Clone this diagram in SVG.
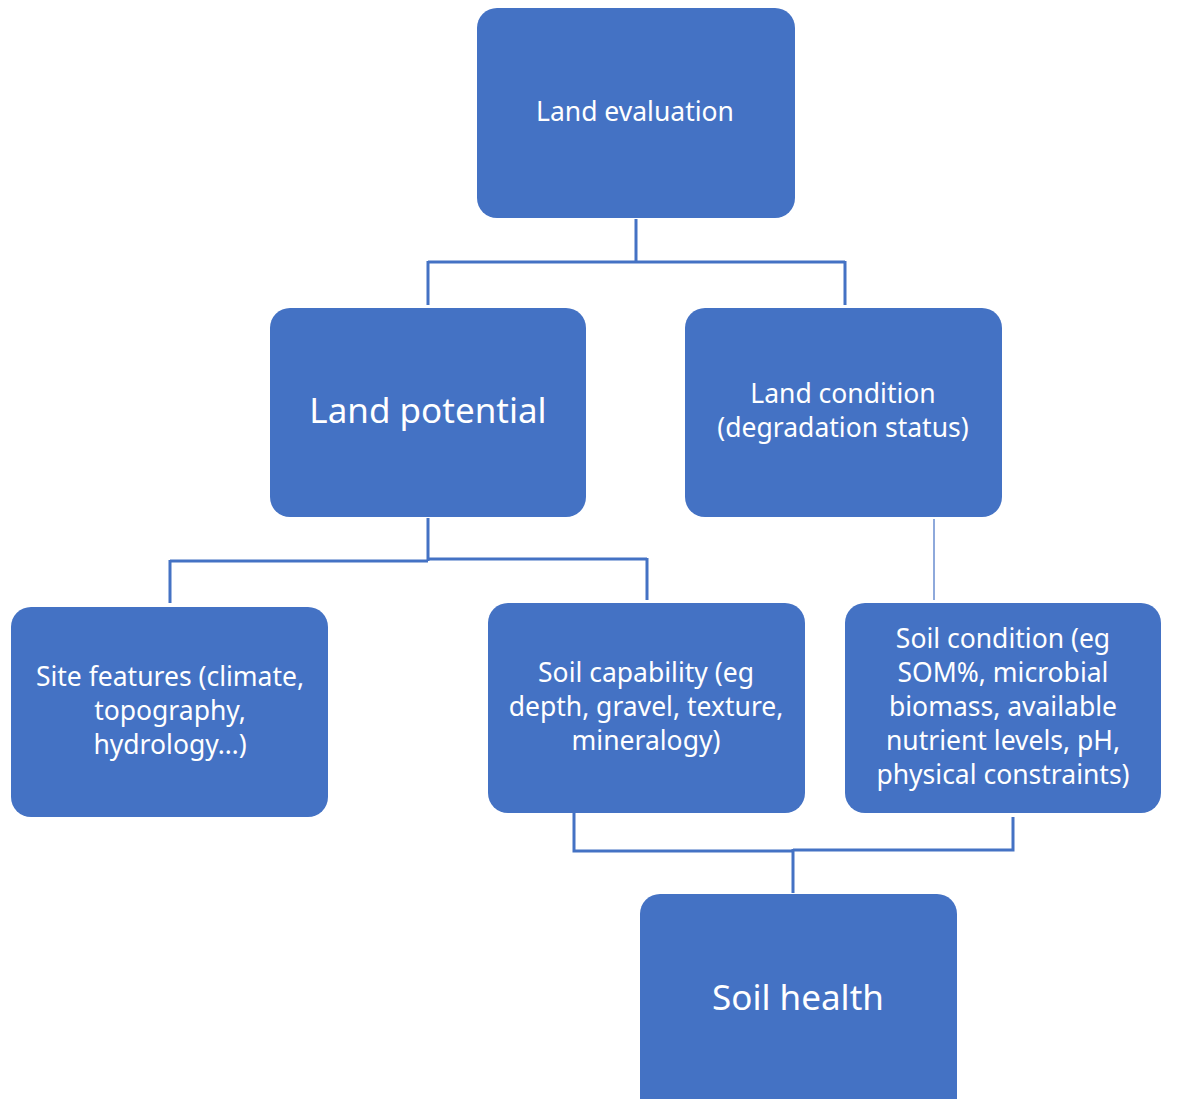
<svg xmlns="http://www.w3.org/2000/svg" width="1191" height="1099" viewBox="0 0 1191 1099">
<style>
.box{fill:#4472C4;}
.t{fill:#fff;font-family:"Noto Sans","Open Sans",sans-serif;font-size:26.5px;text-anchor:middle;}
.big{font-size:35px;}
.c{fill:none;stroke:#4472C4;stroke-width:3;}
.thin{fill:none;stroke:#8EA9DB;stroke-width:2;}
</style>
<rect width="1191" height="1099" fill="#fff"/>
<g id="connectors">
<path class="c" d="M636 219 V262 M428 262 H845 M428 261 V305 M845 261 V305"/>
<path class="c" d="M428 518 V561 M170 561 H428 M428 559 H647 M170 560 V603 M647 558 V600"/>
<path class="thin" d="M934 519 V600"/>
<path class="c" d="M574 813 V851 H793 M793 850 H1013 V817 M793 849 V893"/>
</g>
<g id="land-evaluation">
<rect class="box" x="477" y="8" width="318" height="210" rx="20"/>
<text class="t" x="635" y="121">Land evaluation</text>
</g>
<g id="land-potential">
<rect class="box" x="270" y="308" width="316" height="209" rx="20"/>
<text class="t big" x="428" y="423">Land potential</text>
</g>
<g id="land-condition">
<rect class="box" x="685" y="308" width="317" height="209" rx="20"/>
<text class="t" x="843" y="403">Land condition</text>
<text class="t" x="843" y="437">(degradation status)</text>
</g>
<g id="site-features">
<rect class="box" x="11" y="607" width="317" height="210" rx="20"/>
<text class="t" x="170" y="686">Site features (climate,</text>
<text class="t" x="170" y="720">topography,</text>
<text class="t" x="170" y="754">hydrology…)</text>
</g>
<g id="soil-capability">
<rect class="box" x="488" y="603" width="317" height="210" rx="20"/>
<text class="t" x="646" y="682">Soil capability (eg</text>
<text class="t" x="646" y="716">depth, gravel, texture,</text>
<text class="t" x="646" y="750">mineralogy)</text>
</g>
<g id="soil-condition">
<rect class="box" x="845" y="603" width="316" height="210" rx="20"/>
<text class="t" x="1003" y="648">Soil condition (eg</text>
<text class="t" x="1003" y="682">SOM%, microbial</text>
<text class="t" x="1003" y="716">biomass, available</text>
<text class="t" x="1003" y="750">nutrient levels, pH,</text>
<text class="t" x="1003" y="784">physical constraints)</text>
</g>
<g id="soil-health">
<rect class="box" x="640" y="894" width="317" height="230" rx="20"/>
<text class="t big" x="798" y="1010">Soil health</text>
</g>
</svg>
